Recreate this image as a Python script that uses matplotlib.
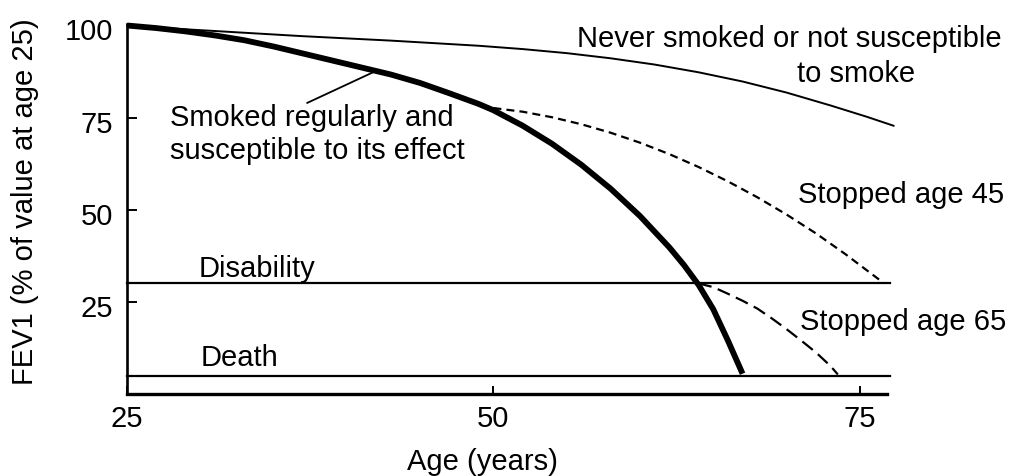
import numpy as np
import matplotlib
matplotlib.use("Agg")
import matplotlib.pyplot as plt
from matplotlib.transforms import ScaledTranslation

plt.rcParams['font.family'] = ['Liberation Sans', 'DejaVu Sans']

# values
never_age = [25, 28, 31, 34, 37, 40, 43, 46, 49, 52, 55, 58, 61, 64, 67, 70, 73, 75.5, 77.3]
never_fev = [100, 99.2, 98.5, 97.8, 97.1, 96.5, 95.9, 95.2, 94.5, 93.6, 92.5, 91.1, 89.4, 87.3, 84.8,
             81.8, 78.3, 75.2, 72.8]

smoker_age = [25, 27, 29, 31, 33, 35, 37, 39, 41, 43, 45, 47, 49, 50, 52, 54, 56, 58, 60, 62, 63, 64, 65, 66, 67]
smoker_fev = [100, 99.3, 98.4, 97.3, 96.0, 94.3, 92.4, 90.5, 88.6, 86.7, 84.4, 81.6, 78.7, 77.0, 72.8,
              67.9, 62.2, 55.7, 48.3, 39.8, 35, 29.6, 23, 14.5, 5.5]

stop45_age = [50, 52, 54, 56, 58, 60, 62, 64, 66, 68, 70, 72, 74, 75, 76.6]
stop45_fev = [77.6, 76.6, 75.1, 73.2, 70.9, 68.2, 65.1, 61.6, 57.7, 53.4, 48.7, 43.6, 38.0, 35.0, 30.2]

stop65_age = [64, 65, 66, 67, 68, 69, 70, 71, 72, 73, 73.5]
stop65_fev = [30, 29, 27.2, 25.3, 23.2, 20.5, 17.6, 14.5, 11.3, 7.6, 5.3]

disability = 30
death = 5
line_end = 77.05

# leader line from the smoker label to its curve
leader_age = [37.3, 42.0]
leader_fev = [79.0, 87.7]

fig = plt.figure(figsize=(10.09, 4.76), dpi=100)
ax = fig.add_axes([0.1259, 0.1723, 0.764, 0.778])

ax.plot(never_age, never_fev, color="black", lw=1.4, clip_on=False)
ax.plot(smoker_age, smoker_fev, color="black", lw=4.2, clip_on=False,
        solid_capstyle="butt", solid_joinstyle="round")
ax.plot(stop45_age, stop45_fev, color="black", lw=1.6, ls=(0, (3.6, 2.3)), clip_on=False)
ax.plot(stop65_age, stop65_fev, color="black", lw=1.6, ls=(0, (6, 3)), clip_on=False)

ax.plot([25, line_end], [disability, disability], color="black", lw=1.6, clip_on=False)
ax.plot([25, line_end], [death, death], color="black", lw=1.6, clip_on=False)

ax.plot(leader_age, leader_fev, color="black", lw=1.3)

fs = 21
ax.text(55.7, 94.2, "Never smoked or not susceptible", fontsize=fs, va="baseline")
ax.text(70.7, 84.8, "to smoke", fontsize=fs, va="baseline")
ax.text(27.9, 72.7, "Smoked regularly and", fontsize=fs, va="baseline")
ax.text(27.9, 63.8, "susceptible to its effect", fontsize=fs, va="baseline")
ax.text(70.8, 51.8, "Stopped age 45", fontsize=fs, va="baseline")
ax.text(70.9, 17.4, "Stopped age 65", fontsize=fs, va="baseline")
ax.text(29.9, 31.8, "Disability", fontsize=fs, va="baseline")
ax.text(30.0, 7.6, "Death", fontsize=fs, va="baseline")

ax.set_xlim(25, 77.6)
ax.set_ylim(0, 100.5)
ax.spines["top"].set_visible(False)
ax.spines["right"].set_visible(False)
ax.spines["left"].set_linewidth(1.9)
ax.spines["bottom"].set_linewidth(2.4)
ax.spines["bottom"].set_bounds(25, 76.85)

ax.set_xticks([25, 50, 75])
ax.set_yticks([25, 50, 75, 100])
ax.tick_params(axis="y", direction="in", length=7, width=1.4, labelsize=fs, pad=10)
ax.tick_params(axis="x", direction="in", length=6, width=1.4, labelsize=fs, pad=8)
# y tick labels sit a little below their ticks in the original
shift = ScaledTranslation(0, -4 / 100, fig.dpi_scale_trans)
for lab in ax.get_yticklabels():
    lab.set_transform(lab.get_transform() + shift)

fig.text(482 / 1009, 1 - 462 / 476, "Age (years)", fontsize=fs, ha="center", va="center")
fig.text(25 / 1009, 1 - 202 / 476, "FEV1 (% of value at age 25)", fontsize=fs,
         rotation=90, ha="center", va="center")

fig.savefig("out.png", dpi=100, facecolor="white")
